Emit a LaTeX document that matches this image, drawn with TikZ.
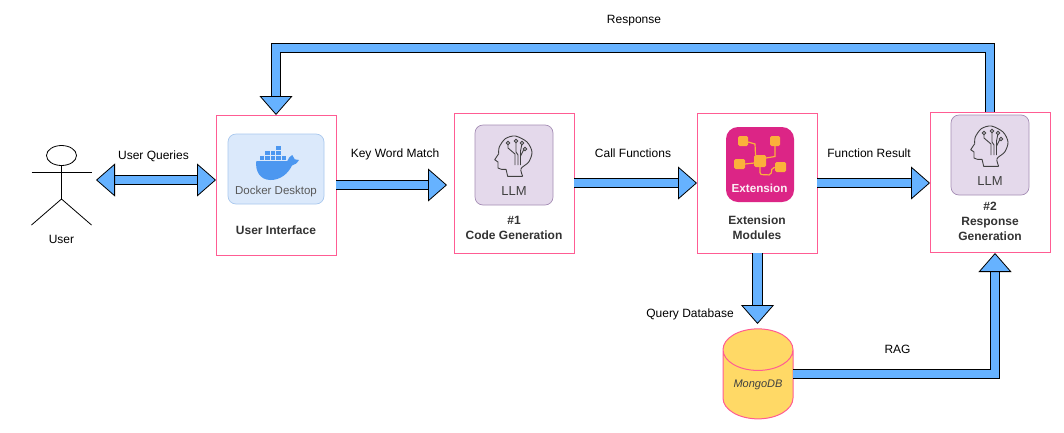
\documentclass[tikz,border=0pt]{standalone}
\usepackage{fontspec}
\setmainfont{Liberation Sans}
\usepackage{tikz}
\usetikzlibrary{arrows.meta}
\usetikzlibrary{shapes.geometric}
\definecolor{arrowblue}{HTML}{66B2FF}
\definecolor{boxpink}{HTML}{FF5C93}
\definecolor{dbyellow}{HTML}{FFD966}
\definecolor{dockercard}{HTML}{DBE9FB}
\definecolor{dockerline}{HTML}{A9C8EE}
\definecolor{whaleblue}{HTML}{4C97F0}
\definecolor{llmcard}{HTML}{E4D9EB}
\definecolor{llmline}{HTML}{A58DB5}
\definecolor{extcard}{HTML}{DC2586}
\definecolor{extyellow}{HTML}{FBB03B}
\tikzset{blockline/.style = {double=arrowblue, double distance=8.6pt, line width=0.8pt,
                             >={Triangle[length=19pt, width=33pt, fill=arrowblue, line width=0.8pt]}},
         blockarrow/.style = {blockline, ->},
         blockboth/.style = {blockline, <->},
         stagebox/.style = {draw=boxpink, line width=1pt, fill=white, minimum width=120pt, minimum height=140pt, inner sep=0pt, outer sep=0pt},
         flowlabel/.style = {font=\fontsize{12}{14}\selectfont, text=black, inner sep=0pt},
         stagelabel/.style = {font=\fontsize{12}{15}\selectfont\bfseries, text=black!80, align=center, inner sep=0pt},
         braincell/.style = {draw=black!75, line width=0.9pt, fill=none},
         llmicon/.pic = {
             \draw [fill=llmcard, draw=llmline, line width=0.7pt, rounded corners=8pt] (0, 0) rectangle (78, 80);
             \draw [braincell, line join=round] plot [smooth, tension=0.5] coordinates {(47.7, 51.3) (46, 43.7) (53.7, 37) (57, 27) (52, 17) (40.3, 11) (30.3, 13.7) (24.3, 22) (23.7, 28.7)};
             \draw [braincell, line join=round] (23.7, 28.7) -- (19.7, 34.7) -- (23, 37) -- (23, 43) -- (26.3, 44.3) -- (31, 44.3) -- (32.7, 51.3) -- (47.7, 51.3);
             \draw [braincell] (33, 20) -- (33, 23) -- (40, 29) -- (40, 40);
             \draw [braincell] (41, 18) -- (41, 27) -- (43, 30) -- (43, 40);
             \draw [braincell] (46.7, 20) -- (45.5, 26) -- (45.5, 40);
             \draw [braincell] (48.5, 25) -- (45.5, 31);
             \draw [braincell] (33, 18) circle (1.8);
             \draw [braincell] (41, 16) circle (1.8);
             \draw [braincell] (47, 18) circle (1.8);
             \draw [braincell] (50, 24) circle (1.8);
             \node (-name) [font=\fontsize{13}{15}\selectfont, text=black!75, inner sep=0pt] at (39, 66) {LLM};
         }}

\begin{document}
\begin{tikzpicture}[x=1pt, y=-1pt]
    \useasboundingbox (0, 0) rectangle (1064, 432);

    \node (ui) [stagebox] at (276, 185) {};
    \node (code) [stagebox] at (514, 183) {};
    \node (ext) [stagebox] at (757, 183) {};
    \node (resp) [stagebox] at (990, 182) {};
    \node (db) [cylinder, shape border rotate=90, aspect=0.85, draw=boxpink, line width=1pt, fill=dbyellow,
                minimum width=70pt, minimum height=90pt, inner sep=0pt, outer sep=0pt,
                font=\fontsize{11}{13}\selectfont\itshape, text=black!75] at (758, 384.5) {MongoDB};

    \draw [line width=0.8pt] (61.5, 155.5) ellipse (15 and 10);
    \draw [line width=0.8pt] (61.5, 165.5) -- (61.5, 199);
    \draw [line width=0.8pt] (31.5, 172) -- (91.5, 172);
    \draw [line width=0.8pt] (31.5, 225) -- (61.5, 199) -- (91.5, 225);

    \draw [fill=dockercard, draw=dockerline, line width=0.7pt, rounded corners=8pt] (228, 134) rectangle (324, 204);
    \fill [whaleblue] (256.3, 161) -- (287.3, 161) .. controls (288.5, 158) and (290, 156) .. (292.3, 155)
        .. controls (293.5, 156.5) and (294, 158) .. (294.7, 159.3) -- (299, 160)
        .. controls (297, 163) and (295, 165) .. (292, 165.5)
        .. controls (288, 174) and (280, 180) .. (270.7, 180)
        .. controls (260, 180) and (255, 171) .. (256.3, 161) -- cycle;
    \foreach \n in {0, 1, 2, 3, 4}
        \fill [whaleblue] (259.7 + 5.5*\n, 156.2) rectangle +(4.4, 4.1);
    \foreach \n in {1, 2, 3}
        \fill [whaleblue] (259.7 + 5.5*\n, 150.8) rectangle +(4.4, 4.1);
    \fill [whaleblue] (276.2, 145.6) rectangle +(4.4, 4.1);
    \node (dockername) [font=\fontsize{11.5}{14}\selectfont, text=black!65, inner sep=0pt] at (276, 192) {Docker Desktop};

    \pic (codeicon) at (475, 125) {llmicon};
    \pic (respicon) at (951, 115) {llmicon};

    \draw [fill=extcard, draw=none, rounded corners=12pt] (726, 127) rectangle (794, 202);
    \draw [extyellow, line width=1.2pt] (748, 142) -- (755, 144) -- (755.5, 155);
    \draw [extyellow, line width=1.2pt] (766, 158) -- (775, 156.5) -- (775, 146);
    \draw [extyellow, line width=1.2pt] (745, 164) -- (754, 163);
    \draw [extyellow, line width=1.2pt, rounded corners=2pt] (760, 167) -- (760, 174.5) -- (771, 175) -- (772, 167.5) -- (775, 167.5);
    \fill [extyellow, rounded corners=1.5pt] (738, 136) rectangle (748, 146);
    \fill [extyellow, rounded corners=1.5pt] (770, 136) rectangle (780, 146);
    \fill [extyellow, rounded corners=1.5pt] (754, 155) rectangle (766, 167);
    \fill [extyellow, rounded corners=1.5pt] (734, 159) rectangle (745, 169);
    \fill [extyellow, rounded corners=1.5pt] (775, 162) rectangle (786, 172);
    \node (extname) [font=\fontsize{11.7}{14}\selectfont\bfseries, text=white!92!extcard, inner sep=0pt] at (759.5, 188.5) {Extension};

    \node (uilabel) [stagelabel] at (276, 230.5) {User Interface};
    \node (codelabel) [stagelabel] at (514, 228) {\#1\\Code Generation};
    \node (extlabel) [stagelabel] at (757, 228) {Extension\\Modules};
    \node (resplabel) [stagelabel] at (990, 221) {\#2\\Response\\Generation};

    \node (userlabel) [flowlabel] at (61.5, 239) {User};
    \node (querylabel) [flowlabel] at (153.5, 156.5) {User Queries};
    \node (matchlabel) [flowlabel] at (395, 154) {Key Word Match};
    \node (calllabel) [flowlabel] at (633, 153) {Call Functions};
    \node (resultlabel) [flowlabel] at (869, 153.5) {Function Result};
    \node (responselabel) [flowlabel] at (634, 20.5) {Response};
    \node (dblabel) [flowlabel] at (690, 314) {Query Database};
    \node (raglabel) [flowlabel] at (897.5, 349.5) {RAG};

    \coordinate (userport) at (96, 180);
    \coordinate (matchend) at (447, 185);
    \coordinate (toprun) at (634, 48);
    \coordinate (dbport) at (757.5, 324);

    \draw [blockboth] (userport) -- (userport -| ui.west);
    \draw [blockarrow] (ui.east) -- (matchend);
    \draw [blockarrow] (code.east) -- (ext.west);
    \draw [blockarrow] (ext.east) -- (ext.east -| resp.west);
    \draw [blockarrow] (resp.north) |- (toprun) -| (ui.north);
    \draw [blockarrow] (dbport |- ext.south) -- (dbport);
    \draw [blockarrow] ([yshift=10.5pt]db.east) -| ([xshift=5pt, yshift=-1pt]resp.south);
\end{tikzpicture}
\end{document}
